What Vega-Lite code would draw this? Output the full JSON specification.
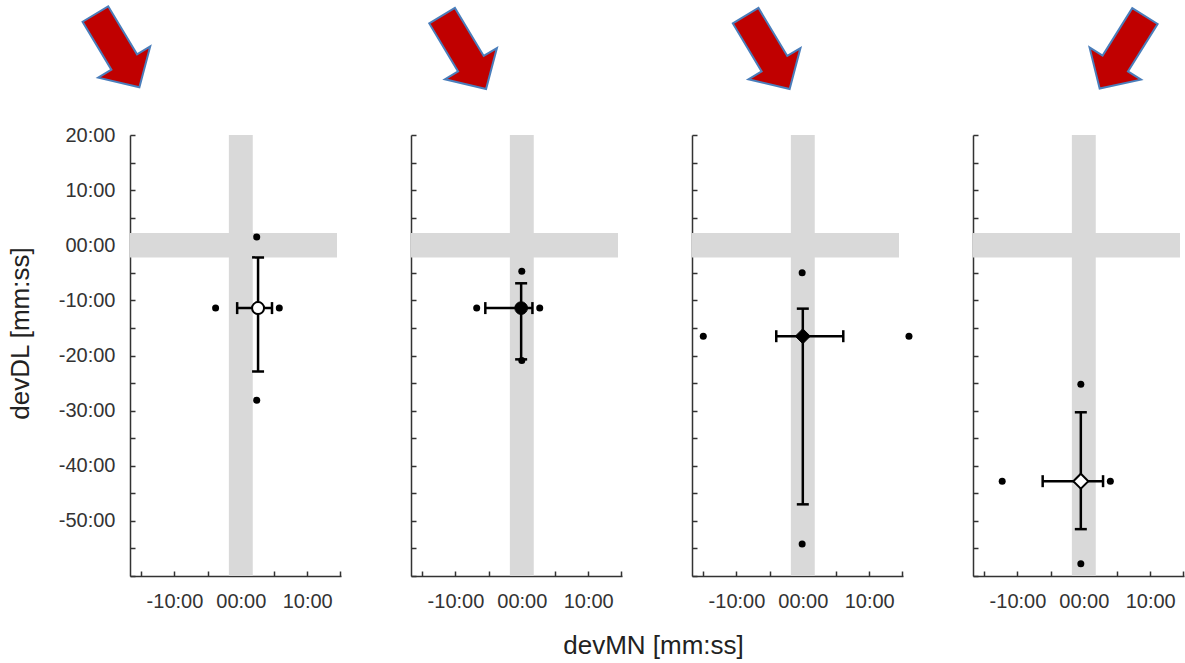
{
  "$schema": "https://vega.github.io/schema/vega-lite/v6.json",
  "background": "white",
  "padding": {"left": 7, "top": 2, "right": 2, "bottom": 5},
  "title": {"text": "devMN [mm:ss]", "orient": "bottom", "anchor": "middle", "frame": "bounds", "dx": 58, "fontSize": 26, "fontWeight": "normal", "font": "Liberation Sans", "color": "#222222", "offset": 22},
  "datasets": {
    "bands": [
      {"x": -1.8, "xe": 1.8, "y": -60, "ye": 20},
      {"x": -16.7, "xe": 14.5, "y": -2.2, "ye": 2.2}
    ],
    "points": [
      {"panel": 1, "x": 2.4, "y": 1.5},
      {"panel": 1, "x": -3.8, "y": -11.4},
      {"panel": 1, "x": 5.8, "y": -11.4},
      {"panel": 1, "x": 2.4, "y": -28.1},
      {"panel": 2, "x": 0, "y": -4.7},
      {"panel": 2, "x": -6.8, "y": -11.4},
      {"panel": 2, "x": 2.7, "y": -11.4},
      {"panel": 2, "x": 0, "y": -20.9},
      {"panel": 3, "x": -0.1, "y": -5.0},
      {"panel": 3, "x": -15.0, "y": -16.5},
      {"panel": 3, "x": 16.0, "y": -16.5},
      {"panel": 3, "x": -0.1, "y": -54.2},
      {"panel": 4, "x": -0.45, "y": -25.2},
      {"panel": 4, "x": -12.3, "y": -42.8},
      {"panel": 4, "x": 4.0, "y": -42.8},
      {"panel": 4, "x": -0.45, "y": -57.8}
    ],
    "means": [
      {"panel": 1, "x": 2.6, "y": -11.4, "xlo": -0.55, "xhi": 4.7, "ylo": -22.9, "yhi": -2.2},
      {"panel": 2, "x": -0.1, "y": -11.4, "xlo": -5.5, "xhi": 1.6, "ylo": -20.7, "yhi": -6.9},
      {"panel": 3, "x": 0, "y": -16.5, "xlo": -4.0, "xhi": 6.1, "ylo": -47.0, "yhi": -11.5},
      {"panel": 4, "x": -0.45, "y": -42.8, "xlo": -6.2, "xhi": 2.9, "ylo": -51.5, "yhi": -30.3}
    ],
    "arrows": [
      {"panel": 1, "x": -18.6, "y": 35.3},
      {"panel": 2, "x": -8.7, "y": 35},
      {"panel": 3, "x": -5.3, "y": 35},
      {"panel": 4, "x": 5.8, "y": 35}
    ]
  },
  "bounds": "flush",
  "spacing": 70,
  "hconcat": [
    {
      "width": 211, "height": 441,
      "encoding": {
        "x": {"field": "x", "type": "quantitative", "scale": {"domain": [-16.7, 15.1], "nice": false, "zero": false},
              "axis": {"title": null, "values": [-15, -10, -5, 0, 5, 10, 15], "labelExpr": "datum.value % 10 == 0 ? (datum.value < 0 ? '-' : '') + (abs(datum.value) < 10 ? '0' : '') + abs(datum.value) + ':00' : ''"}},
        "y": {"field": "y", "type": "quantitative", "scale": {"domain": [-60, 20], "nice": false, "zero": false},
              "axis": {"title": "devDL [mm:ss]", "titleX": -110, "titleY": 198, "titleAngle": -90, "titleAlign": "center", "titleBaseline": "middle",
                       "values": [-60, -55, -50, -45, -40, -35, -30, -25, -20, -15, -10, -5, 0, 5, 10, 15, 20],
                       "labelExpr": "datum.value % 10 == 0 && datum.value > -60 ? (datum.value < 0 ? '-' : '') + (abs(datum.value) < 10 ? '0' : '') + abs(datum.value) + ':00' : ''"}}
      },
      "layer": [
        {"data": {"name": "bands"}, "mark": {"type": "rect", "color": "#D9D9D9"}, "encoding": {"x2": {"field": "xe"}, "y2": {"field": "ye"}}},
        {"data": {"name": "points"}, "transform": [{"filter": "datum.panel == 1"}], "mark": {"type": "circle", "color": "black", "size": 49, "opacity": 1}},
        {"data": {"name": "means"}, "transform": [{"filter": "datum.panel == 1"}], "mark": {"type": "rule", "color": "black", "strokeWidth": 2.5},
         "encoding": {"y": {"field": "ylo", "type": "quantitative", "scale": {"domain": [-60, 20], "nice": false, "zero": false}}, "y2": {"field": "yhi"}}},
        {"data": {"name": "means"}, "transform": [{"filter": "datum.panel == 1"}], "mark": {"type": "rule", "color": "black", "strokeWidth": 2.5},
         "encoding": {"x": {"field": "xlo", "type": "quantitative", "scale": {"domain": [-16.7, 15.1], "nice": false, "zero": false}}, "x2": {"field": "xhi"}}},
        {"data": {"name": "means"}, "transform": [{"filter": "datum.panel == 1"}], "mark": {"type": "tick", "orient": "horizontal", "color": "black", "thickness": 2.5, "size": 12, "opacity": 1},
         "encoding": {"y": {"field": "ylo", "type": "quantitative", "scale": {"domain": [-60, 20], "nice": false, "zero": false}}}},
        {"data": {"name": "means"}, "transform": [{"filter": "datum.panel == 1"}], "mark": {"type": "tick", "orient": "horizontal", "color": "black", "thickness": 2.5, "size": 12, "opacity": 1},
         "encoding": {"y": {"field": "yhi", "type": "quantitative", "scale": {"domain": [-60, 20], "nice": false, "zero": false}}}},
        {"data": {"name": "means"}, "transform": [{"filter": "datum.panel == 1"}], "mark": {"type": "tick", "orient": "vertical", "color": "black", "thickness": 2.5, "size": 12, "opacity": 1},
         "encoding": {"x": {"field": "xlo", "type": "quantitative", "scale": {"domain": [-16.7, 15.1], "nice": false, "zero": false}}}},
        {"data": {"name": "means"}, "transform": [{"filter": "datum.panel == 1"}], "mark": {"type": "tick", "orient": "vertical", "color": "black", "thickness": 2.5, "size": 12, "opacity": 1},
         "encoding": {"x": {"field": "xhi", "type": "quantitative", "scale": {"domain": [-16.7, 15.1], "nice": false, "zero": false}}}},
        {"data": {"name": "means"}, "transform": [{"filter": "datum.panel == 1"}], "mark": {"type": "point", "shape": "circle", "filled": true, "fill": "white", "stroke": "black", "strokeWidth": 2, "size": 144, "opacity": 1}},
        {"data": {"name": "arrows"}, "transform": [{"filter": "datum.panel == 1"}], "mark": {"type": "point", "shape": "M-0.35,-1L0.35,-1L0.35,0.31L0.71,0.31L0,1L-0.71,0.31L-0.35,0.31Z", "filled": true, "fill": "#C00000", "stroke": "#4A7EBB", "strokeWidth": 2, "size": 7300, "angle": -31, "opacity": 1}}
      ]
    },
    {
      "width": 211, "height": 441,
      "encoding": {
        "x": {"field": "x", "type": "quantitative", "scale": {"domain": [-16.7, 15.1], "nice": false, "zero": false},
              "axis": {"title": null, "values": [-15, -10, -5, 0, 5, 10, 15], "labelExpr": "datum.value % 10 == 0 ? (datum.value < 0 ? '-' : '') + (abs(datum.value) < 10 ? '0' : '') + abs(datum.value) + ':00' : ''"}},
        "y": {"field": "y", "type": "quantitative", "scale": {"domain": [-60, 20], "nice": false, "zero": false},
              "axis": {"title": null, "labels": false, "values": [-60, -55, -50, -45, -40, -35, -30, -25, -20, -15, -10, -5, 0, 5, 10, 15, 20]}}
      },
      "layer": [
        {"data": {"name": "bands"}, "mark": {"type": "rect", "color": "#D9D9D9"}, "encoding": {"x2": {"field": "xe"}, "y2": {"field": "ye"}}},
        {"data": {"name": "points"}, "transform": [{"filter": "datum.panel == 2"}], "mark": {"type": "circle", "color": "black", "size": 49, "opacity": 1}},
        {"data": {"name": "means"}, "transform": [{"filter": "datum.panel == 2"}], "mark": {"type": "rule", "color": "black", "strokeWidth": 2.5},
         "encoding": {"y": {"field": "ylo", "type": "quantitative", "scale": {"domain": [-60, 20], "nice": false, "zero": false}}, "y2": {"field": "yhi"}}},
        {"data": {"name": "means"}, "transform": [{"filter": "datum.panel == 2"}], "mark": {"type": "rule", "color": "black", "strokeWidth": 2.5},
         "encoding": {"x": {"field": "xlo", "type": "quantitative", "scale": {"domain": [-16.7, 15.1], "nice": false, "zero": false}}, "x2": {"field": "xhi"}}},
        {"data": {"name": "means"}, "transform": [{"filter": "datum.panel == 2"}], "mark": {"type": "tick", "orient": "horizontal", "color": "black", "thickness": 2.5, "size": 12, "opacity": 1},
         "encoding": {"y": {"field": "ylo", "type": "quantitative", "scale": {"domain": [-60, 20], "nice": false, "zero": false}}}},
        {"data": {"name": "means"}, "transform": [{"filter": "datum.panel == 2"}], "mark": {"type": "tick", "orient": "horizontal", "color": "black", "thickness": 2.5, "size": 12, "opacity": 1},
         "encoding": {"y": {"field": "yhi", "type": "quantitative", "scale": {"domain": [-60, 20], "nice": false, "zero": false}}}},
        {"data": {"name": "means"}, "transform": [{"filter": "datum.panel == 2"}], "mark": {"type": "tick", "orient": "vertical", "color": "black", "thickness": 2.5, "size": 12, "opacity": 1},
         "encoding": {"x": {"field": "xlo", "type": "quantitative", "scale": {"domain": [-16.7, 15.1], "nice": false, "zero": false}}}},
        {"data": {"name": "means"}, "transform": [{"filter": "datum.panel == 2"}], "mark": {"type": "tick", "orient": "vertical", "color": "black", "thickness": 2.5, "size": 12, "opacity": 1},
         "encoding": {"x": {"field": "xhi", "type": "quantitative", "scale": {"domain": [-16.7, 15.1], "nice": false, "zero": false}}}},
        {"data": {"name": "means"}, "transform": [{"filter": "datum.panel == 2"}], "mark": {"type": "point", "shape": "circle", "filled": true, "fill": "black", "stroke": "black", "strokeWidth": 1, "size": 160, "opacity": 1}},
        {"data": {"name": "arrows"}, "transform": [{"filter": "datum.panel == 2"}], "mark": {"type": "point", "shape": "M-0.35,-1L0.35,-1L0.35,0.31L0.71,0.31L0,1L-0.71,0.31L-0.35,0.31Z", "filled": true, "fill": "#C00000", "stroke": "#4A7EBB", "strokeWidth": 2, "size": 7300, "angle": -31, "opacity": 1}}
      ]
    },
    {
      "width": 211, "height": 441,
      "encoding": {
        "x": {"field": "x", "type": "quantitative", "scale": {"domain": [-16.7, 15.1], "nice": false, "zero": false},
              "axis": {"title": null, "values": [-15, -10, -5, 0, 5, 10, 15], "labelExpr": "datum.value % 10 == 0 ? (datum.value < 0 ? '-' : '') + (abs(datum.value) < 10 ? '0' : '') + abs(datum.value) + ':00' : ''"}},
        "y": {"field": "y", "type": "quantitative", "scale": {"domain": [-60, 20], "nice": false, "zero": false},
              "axis": {"title": null, "labels": false, "values": [-60, -55, -50, -45, -40, -35, -30, -25, -20, -15, -10, -5, 0, 5, 10, 15, 20]}}
      },
      "layer": [
        {"data": {"name": "bands"}, "mark": {"type": "rect", "color": "#D9D9D9"}, "encoding": {"x2": {"field": "xe"}, "y2": {"field": "ye"}}},
        {"data": {"name": "points"}, "transform": [{"filter": "datum.panel == 3"}], "mark": {"type": "circle", "color": "black", "size": 49, "opacity": 1}},
        {"data": {"name": "means"}, "transform": [{"filter": "datum.panel == 3"}], "mark": {"type": "rule", "color": "black", "strokeWidth": 2.5},
         "encoding": {"y": {"field": "ylo", "type": "quantitative", "scale": {"domain": [-60, 20], "nice": false, "zero": false}}, "y2": {"field": "yhi"}}},
        {"data": {"name": "means"}, "transform": [{"filter": "datum.panel == 3"}], "mark": {"type": "rule", "color": "black", "strokeWidth": 2.5},
         "encoding": {"x": {"field": "xlo", "type": "quantitative", "scale": {"domain": [-16.7, 15.1], "nice": false, "zero": false}}, "x2": {"field": "xhi"}}},
        {"data": {"name": "means"}, "transform": [{"filter": "datum.panel == 3"}], "mark": {"type": "tick", "orient": "horizontal", "color": "black", "thickness": 2.5, "size": 12, "opacity": 1},
         "encoding": {"y": {"field": "ylo", "type": "quantitative", "scale": {"domain": [-60, 20], "nice": false, "zero": false}}}},
        {"data": {"name": "means"}, "transform": [{"filter": "datum.panel == 3"}], "mark": {"type": "tick", "orient": "horizontal", "color": "black", "thickness": 2.5, "size": 12, "opacity": 1},
         "encoding": {"y": {"field": "yhi", "type": "quantitative", "scale": {"domain": [-60, 20], "nice": false, "zero": false}}}},
        {"data": {"name": "means"}, "transform": [{"filter": "datum.panel == 3"}], "mark": {"type": "tick", "orient": "vertical", "color": "black", "thickness": 2.5, "size": 12, "opacity": 1},
         "encoding": {"x": {"field": "xlo", "type": "quantitative", "scale": {"domain": [-16.7, 15.1], "nice": false, "zero": false}}}},
        {"data": {"name": "means"}, "transform": [{"filter": "datum.panel == 3"}], "mark": {"type": "tick", "orient": "vertical", "color": "black", "thickness": 2.5, "size": 12, "opacity": 1},
         "encoding": {"x": {"field": "xhi", "type": "quantitative", "scale": {"domain": [-16.7, 15.1], "nice": false, "zero": false}}}},
        {"data": {"name": "means"}, "transform": [{"filter": "datum.panel == 3"}], "mark": {"type": "point", "shape": "diamond", "filled": true, "fill": "black", "stroke": "black", "strokeWidth": 1, "size": 225, "opacity": 1}},
        {"data": {"name": "arrows"}, "transform": [{"filter": "datum.panel == 3"}], "mark": {"type": "point", "shape": "M-0.35,-1L0.35,-1L0.35,0.31L0.71,0.31L0,1L-0.71,0.31L-0.35,0.31Z", "filled": true, "fill": "#C00000", "stroke": "#4A7EBB", "strokeWidth": 2, "size": 7300, "angle": -31, "opacity": 1}}
      ]
    },
    {
      "width": 211, "height": 441,
      "encoding": {
        "x": {"field": "x", "type": "quantitative", "scale": {"domain": [-16.7, 15.1], "nice": false, "zero": false},
              "axis": {"title": null, "values": [-15, -10, -5, 0, 5, 10, 15], "labelExpr": "datum.value % 10 == 0 ? (datum.value < 0 ? '-' : '') + (abs(datum.value) < 10 ? '0' : '') + abs(datum.value) + ':00' : ''"}},
        "y": {"field": "y", "type": "quantitative", "scale": {"domain": [-60, 20], "nice": false, "zero": false},
              "axis": {"title": null, "labels": false, "values": [-60, -55, -50, -45, -40, -35, -30, -25, -20, -15, -10, -5, 0, 5, 10, 15, 20]}}
      },
      "layer": [
        {"data": {"name": "bands"}, "mark": {"type": "rect", "color": "#D9D9D9"}, "encoding": {"x2": {"field": "xe"}, "y2": {"field": "ye"}}},
        {"data": {"name": "points"}, "transform": [{"filter": "datum.panel == 4"}], "mark": {"type": "circle", "color": "black", "size": 49, "opacity": 1}},
        {"data": {"name": "means"}, "transform": [{"filter": "datum.panel == 4"}], "mark": {"type": "rule", "color": "black", "strokeWidth": 2.5},
         "encoding": {"y": {"field": "ylo", "type": "quantitative", "scale": {"domain": [-60, 20], "nice": false, "zero": false}}, "y2": {"field": "yhi"}}},
        {"data": {"name": "means"}, "transform": [{"filter": "datum.panel == 4"}], "mark": {"type": "rule", "color": "black", "strokeWidth": 2.5},
         "encoding": {"x": {"field": "xlo", "type": "quantitative", "scale": {"domain": [-16.7, 15.1], "nice": false, "zero": false}}, "x2": {"field": "xhi"}}},
        {"data": {"name": "means"}, "transform": [{"filter": "datum.panel == 4"}], "mark": {"type": "tick", "orient": "horizontal", "color": "black", "thickness": 2.5, "size": 12, "opacity": 1},
         "encoding": {"y": {"field": "ylo", "type": "quantitative", "scale": {"domain": [-60, 20], "nice": false, "zero": false}}}},
        {"data": {"name": "means"}, "transform": [{"filter": "datum.panel == 4"}], "mark": {"type": "tick", "orient": "horizontal", "color": "black", "thickness": 2.5, "size": 12, "opacity": 1},
         "encoding": {"y": {"field": "yhi", "type": "quantitative", "scale": {"domain": [-60, 20], "nice": false, "zero": false}}}},
        {"data": {"name": "means"}, "transform": [{"filter": "datum.panel == 4"}], "mark": {"type": "tick", "orient": "vertical", "color": "black", "thickness": 2.5, "size": 12, "opacity": 1},
         "encoding": {"x": {"field": "xlo", "type": "quantitative", "scale": {"domain": [-16.7, 15.1], "nice": false, "zero": false}}}},
        {"data": {"name": "means"}, "transform": [{"filter": "datum.panel == 4"}], "mark": {"type": "tick", "orient": "vertical", "color": "black", "thickness": 2.5, "size": 12, "opacity": 1},
         "encoding": {"x": {"field": "xhi", "type": "quantitative", "scale": {"domain": [-16.7, 15.1], "nice": false, "zero": false}}}},
        {"data": {"name": "means"}, "transform": [{"filter": "datum.panel == 4"}], "mark": {"type": "point", "shape": "diamond", "filled": true, "fill": "white", "stroke": "black", "strokeWidth": 2, "size": 225, "opacity": 1}},
        {"data": {"name": "arrows"}, "transform": [{"filter": "datum.panel == 4"}], "mark": {"type": "point", "shape": "M-0.35,-1L0.35,-1L0.35,0.31L0.71,0.31L0,1L-0.71,0.31L-0.35,0.31Z", "filled": true, "fill": "#C00000", "stroke": "#4A7EBB", "strokeWidth": 2, "size": 7300, "angle": 32, "opacity": 1}}
      ]
    }
  ],
  "config": {
    "font": "Liberation Sans",
    "view": {"stroke": null},
    "axis": {
      "grid": false,
      "domainColor": "#333333", "domainWidth": 1.5,
      "tickColor": "#333333", "tickWidth": 1.5, "tickSize": -5,
      "labelFont": "Liberation Sans", "labelFontSize": 20, "labelColor": "#333333", "labelPadding": 20,
      "labelOverlap": false, "labelFlush": false,
      "titleFont": "Liberation Sans", "titleFontSize": 26, "titleFontWeight": "normal", "titleColor": "#222222"
    }
  }
}
